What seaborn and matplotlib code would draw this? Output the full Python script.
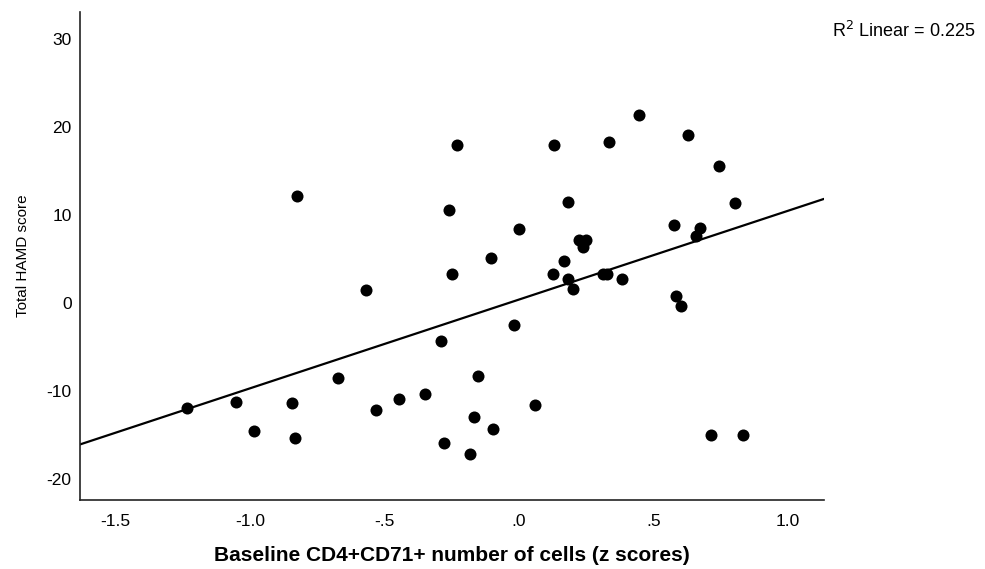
"""Scatter of baseline CD4+CD71+ cells vs total HAMD score with linear fit."""

import matplotlib

matplotlib.use("Agg")
import matplotlib.pyplot as plt
import pandas as pd
import seaborn as sns

# values
cd71_z = [
    -0.824, -0.232, 0.130, 0.335, -0.259, 0.181, 0.001, 0.224, 0.249, 0.237,
    -0.105, 0.167, -0.248, 0.125, 0.181, 0.200, 0.311, 0.326, 0.384, -0.569,
    0.447, 0.628, 0.745, 0.804, 0.576, 0.675, 0.660, 0.585, 0.602, 0.714,
    0.834, -0.019, -0.291, -0.673, -0.154, -0.351, -0.446, -0.533, 0.061, -0.166,
    -0.098, -0.279, -0.183, -1.233, -1.053, -0.845, -0.984, -0.832,
]
hamd_total = [
    12.2, 17.95, 18.0, 18.3, 10.6, 11.5, 8.37, 7.16, 7.16, 6.4,
    5.08, 4.8, 3.3, 3.3, 2.73, 1.63, 3.3, 3.3, 2.7, 1.48,
    21.4, 19.1, 15.6, 11.4, 8.83, 8.56, 7.6, 0.8, -0.3, -15.0,
    -15.0, -2.5, -4.3, -8.5, -8.3, -10.4, -10.9, -12.2, -11.6, -12.95,
    -14.3, -15.9, -17.2, -11.9, -11.3, -11.4, -14.5, -15.3,
]
x_ticks = [-1.5, -1.0, -0.5, 0.0, 0.5, 1.0]
x_tick_labels = ["-1.5", "-1.0", "-.5", ".0", ".5", "1.0"]
y_ticks = [-20, -10, 0, 10, 20, 30]
r2_label = "R$^2$ Linear = 0.225"

df = pd.DataFrame({"cd71": cd71_z, "hamd": hamd_total})

sns.set_style("white")
plt.rcParams["font.family"] = ["Liberation Sans", "DejaVu Sans"]
plt.rcParams["axes.unicode_minus"] = False

fig = plt.figure(figsize=(9.85, 5.69), dpi=100)
ax = fig.add_axes([0.0812, 0.1213, 0.7553, 0.8577])
ax.set_xlim(-1.632, 1.134)
ax.set_ylim(-22.4, 33.1)

sns.regplot(
    data=df, x="cd71", y="hamd", ax=ax, ci=None, truncate=False,
    scatter_kws={"s": 75, "color": "black", "linewidths": 0, "alpha": 1},
    line_kws={"color": "black", "linewidth": 1.6},
)
ax.set_xlim(-1.632, 1.134)
ax.set_ylim(-22.4, 33.1)

ax.set_xticks(x_ticks)
ax.set_xticklabels(x_tick_labels)
ax.set_yticks(y_ticks)
ax.tick_params(axis="both", length=0, labelsize=12.5, colors="black")
ax.tick_params(axis="x", pad=10)
ax.tick_params(axis="y", pad=6)

sns.despine(ax=ax)
for side in ("left", "bottom"):
    ax.spines[side].set_color("#222222")
    ax.spines[side].set_linewidth(1.2)

ax.set_xlabel("Baseline CD4+CD71+ number of cells (z scores)",
              fontsize=15, fontweight="bold", labelpad=12, color="black")
ax.set_ylabel("Total HAMD score", fontsize=11, labelpad=12, color="black")

fig.text(0.99, 0.945, r2_label, ha="right", va="center", fontsize=13,
         color="black")

fig.savefig("out.png", dpi=100)
plt.close(fig)
